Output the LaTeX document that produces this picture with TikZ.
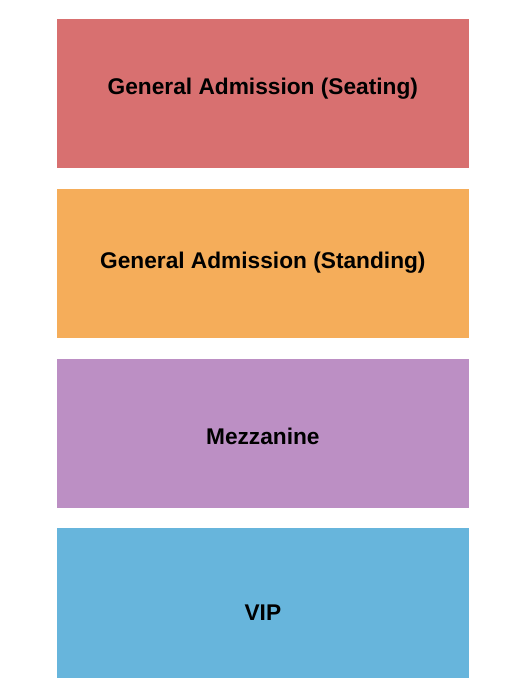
\documentclass[tikz,border=0pt]{standalone}
\usepackage{fontspec}
\setmainfont{Liberation Sans}
\usepackage{tikz}
\usetikzlibrary{positioning}
\definecolor{seatred}{HTML}{D87070}
\definecolor{standorange}{HTML}{F5AD5A}
\definecolor{mezzpurple}{HTML}{BC8FC4}
\definecolor{vipblue}{HTML}{67B5DC}
\tikzstyle{section} = [rectangle, draw=none, minimum width=411.3pt, minimum height=149.3pt, inner sep=0pt]
\tikzstyle{sectext} = [draw=none, fill=none, inner sep=0pt, anchor=base, text centered, font=\fontsize{22.7}{26}\selectfont\bfseries]

\begin{document}
\begin{tikzpicture}[x=1pt, y=-1pt]
	% page frame
	\useasboundingbox (0,0) rectangle (525,700);

	% place nodes
	\node [section, fill=seatred, anchor=north west] (S1) at (57,19) {};
	\node [section, fill=standorange, below=20pt of S1]  (S2) {};
	\node [section, fill=mezzpurple, below=20pt of S2]   (S3) {};
	\node [section, fill=vipblue, below=20pt of S3]      (S4) {};

	% section names
	\node [sectext] (T1) at ([yshift=-75.7pt]S1.north) {General Admission (Seating)};
	\node [sectext] (T2) at ([yshift=-79.7pt]S2.north) {General Admission (Standing)};
	\node [sectext] (T3) at ([yshift=-86pt]S3.north)   {Mezzanine};
	\node [sectext] (T4) at ([yshift=-92.3pt]S4.north) {VIP};
\end{tikzpicture}
\end{document}
